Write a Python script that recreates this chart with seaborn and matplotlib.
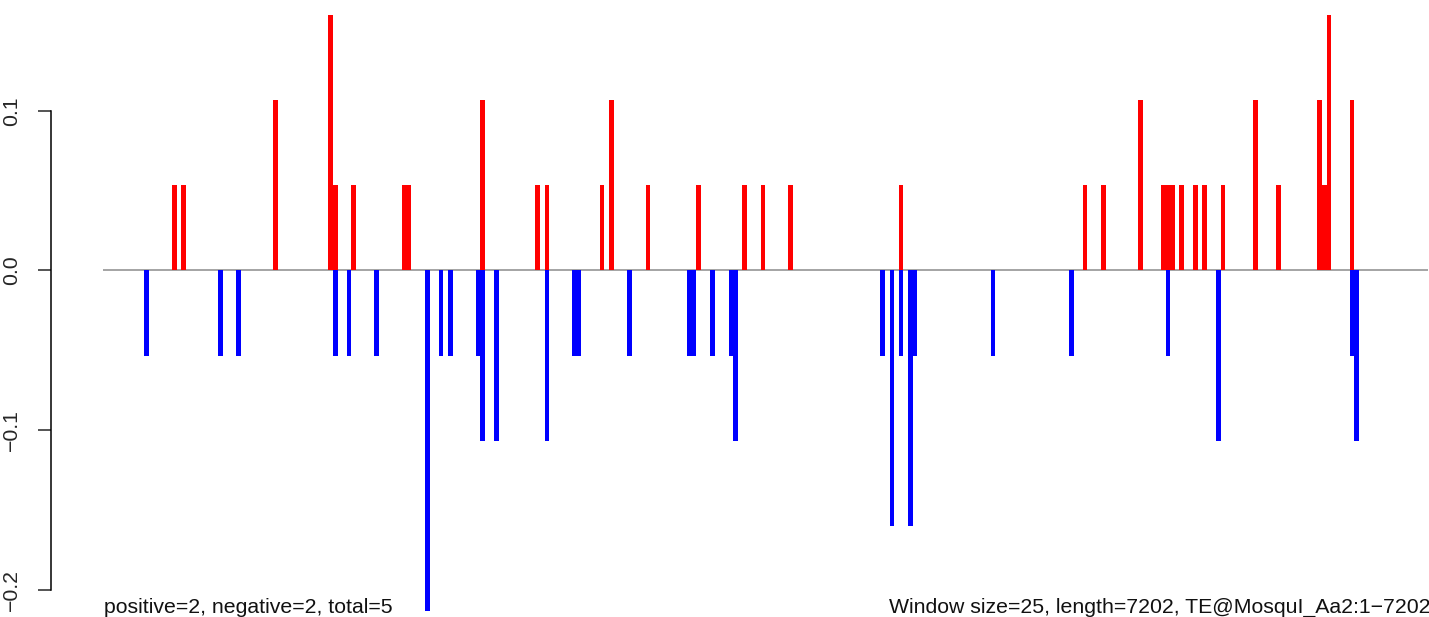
import numpy as np
import pandas as pd
import matplotlib
matplotlib.use("Agg")
import matplotlib.pyplot as plt
import seaborn as sns

# ── Data (window index along the sequence, score per window) ──────────────

SEQ_LENGTH = 7202
WINDOW_SIZE = 25

pos_windows = [15, 17, 37, 49, 50, 54, 65, 66, 82, 94, 96, 108, 110, 118, 129,
               139, 143, 149, 173, 213, 217, 225, 230, 231, 232, 234, 237, 239,
               243, 250, 255, 264, 265, 266, 271]
pos_scores = [0.0533, 0.0533, 0.1067, 0.16, 0.0533, 0.0533, 0.0533, 0.0533,
              0.1067, 0.0533, 0.0533, 0.0533, 0.1067, 0.0533, 0.0533, 0.0533,
              0.0533, 0.0533, 0.0533, 0.0533, 0.0533, 0.1067, 0.0533, 0.0533,
              0.0533, 0.0533, 0.0533, 0.0533, 0.0533, 0.1067, 0.0533, 0.1067,
              0.0533, 0.16, 0.1067]

neg_windows = [9, 25, 29, 50, 53, 59, 70, 73, 75, 81, 82, 85, 96, 102, 103, 114,
               127, 128, 132, 136, 137, 169, 171, 173, 175, 176, 193, 210, 231,
               242, 271, 272]
neg_scores = [-0.0533, -0.0533, -0.0533, -0.0533, -0.0533, -0.0533, -0.2133,
              -0.0533, -0.0533, -0.0533, -0.1067, -0.1067, -0.1067, -0.0533,
              -0.0533, -0.0533, -0.0533, -0.0533, -0.0533, -0.0533, -0.1067,
              -0.0533, -0.16, -0.0533, -0.16, -0.0533, -0.0533, -0.0533,
              -0.0533, -0.1067, -0.0533, -0.1067]

y_ticks = [-0.2, -0.1, 0.0, 0.1]
y_tick_labels = ["\u22120.2", "\u22120.1", "0.0", "0.1"]

left_note = "positive=2, negative=2, total=5"
right_note = "Window size=25, length=7202, TE@MosquI_Aa2:1\u22127202"

# ── Plot ──────────────────────────────────────────────────────────────────

sns.set_style("white")
plt.rcParams["font.family"] = ["Liberation Sans", "DejaVu Sans"]

fig = plt.figure(figsize=(14.29, 6.17), dpi=100)
ax = fig.add_axes([0, 0, 1, 1])

pos_df = pd.DataFrame({"window": pos_windows, "score": pos_scores})
neg_df = pd.DataFrame({"window": neg_windows, "score": neg_scores})

for df, col in [(pos_df, "#ff0000"), (neg_df, "#0000ff")]:
    sns.barplot(data=df, x="window", y="score", native_scale=True, width=1.0,
                color=col, saturation=1, errorbar=None, linewidth=0,
                edgecolor="none", ax=ax)

n_windows = SEQ_LENGTH / WINDOW_SIZE
ax.hlines(0, -0.5, n_windows - 0.5, color="#8c8c8c", linewidth=1.1, zorder=0)

ax.set_xlim(-22.89, 287.76)
ax.set_ylim(-0.2171, 0.1694)

# R-style left axis only
for side in ["top", "right", "bottom"]:
    ax.spines[side].set_visible(False)
ax.spines["left"].set_position(("data", -11.8))
ax.spines["left"].set_bounds(-0.2, 0.1)
ax.spines["left"].set_linewidth(1.1)
ax.spines["left"].set_color("black")

ax.set_xticks([])
ax.set_yticks(y_ticks, y_tick_labels)
ax.tick_params(axis="y", direction="out", length=9.5, width=1.1, pad=12,
               labelsize=15.3, labelrotation=90, left=True)
for lab in ax.get_yticklabels():
    lab.set_va("center")
ax.set_xlabel("")
ax.set_ylabel("")

ax.text(-0.3, 0.0065, left_note, transform=ax.get_xaxis_transform(),
        ha="left", va="baseline", fontsize=15.3, color="#111111")
ax.text(170.3, 0.0065, right_note, transform=ax.get_xaxis_transform(),
        ha="left", va="baseline", fontsize=15.3, color="#111111")

fig.savefig("out.png", dpi=100)
plt.close(fig)
